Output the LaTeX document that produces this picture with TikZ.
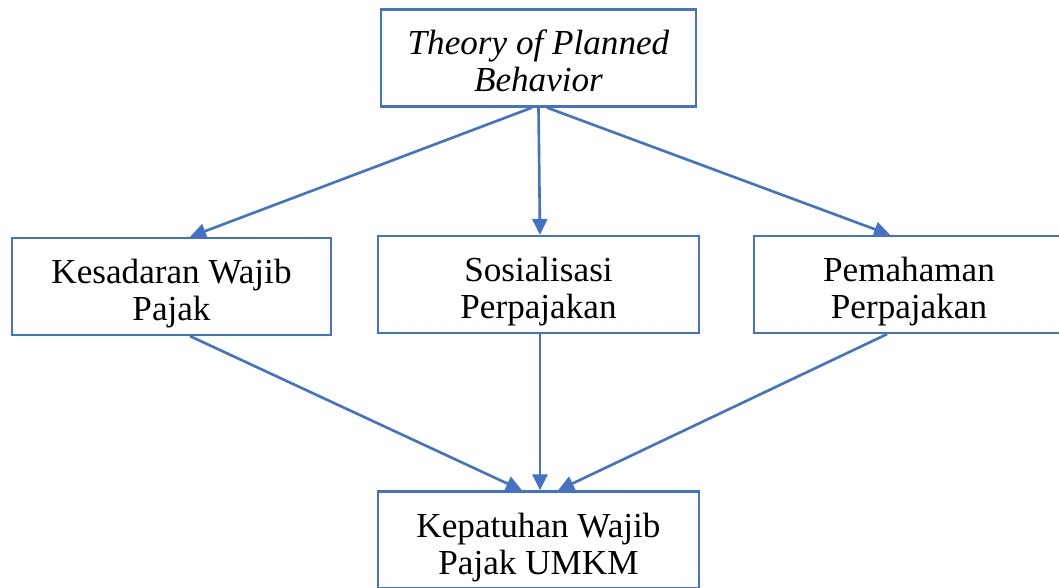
\documentclass[tikz,border=0pt]{standalone}
\usepackage{fontspec}
\setmainfont{Liberation Serif}
\usepackage{xcolor}
\usetikzlibrary{arrows.meta,positioning}
\definecolor{wordblue}{HTML}{4472C4}
\newcommand{\liftline}[1][22pt]{\rule{0pt}{#1}}
\begin{document}
\begin{tikzpicture}[x=0.02cm, y=-0.02cm,
    concept/.style={draw=wordblue, line width=1.3pt, fill=white, minimum height=1.94cm, align=center, font=\fontsize{20}{21}\selectfont, inner sep=0pt},
    link/.style={wordblue, line width=1.5pt, -{Triangle[length=0.32cm, width=0.3cm]}}
]
\useasboundingbox (0,0) rectangle (1059,588);
\node[concept, minimum width=6.3cm] (tpb) at (538.5,58) {\liftline[17pt]\textit{Theory of Planned}\\\textit{Behavior}};
\node[concept, minimum width=6.38cm] (kesadaran) at (171.5,286.5) {\liftline Kesadaran Wajib\\Pajak};
\node[concept, minimum width=6.42cm] (sosialisasi) at (538.5,284.5) {\liftline Sosialisasi\\Perpajakan};
\node[concept, minimum width=6.2cm] (pemahaman) at (909,284.5) {\liftline Pemahaman\\Perpajakan};
\node[concept, minimum width=6.42cm] (kepatuhan) at (538.5,540) {\liftline Kepatuhan Wajib\\Pajak UMKM};
\draw[link] ([xshift=-0.13cm]tpb.south) -- ([xshift=0.37cm]kesadaran.north);
\draw[link] (tpb.south) -- ([xshift=0.03cm]sosialisasi.north);
\draw[link] ([xshift=0.17cm]tpb.south) -- ([xshift=-0.38cm]pemahaman.north);
\draw[link] ([xshift=0.37cm]kesadaran.south) -- ([xshift=-0.33cm]kepatuhan.north);
\draw[link] ([xshift=0.03cm]sosialisasi.south) -- ([xshift=0.03cm]kepatuhan.north);
\draw[link] ([xshift=-0.44cm]pemahaman.south) -- ([xshift=0.39cm]kepatuhan.north);
\end{tikzpicture}
\end{document}
